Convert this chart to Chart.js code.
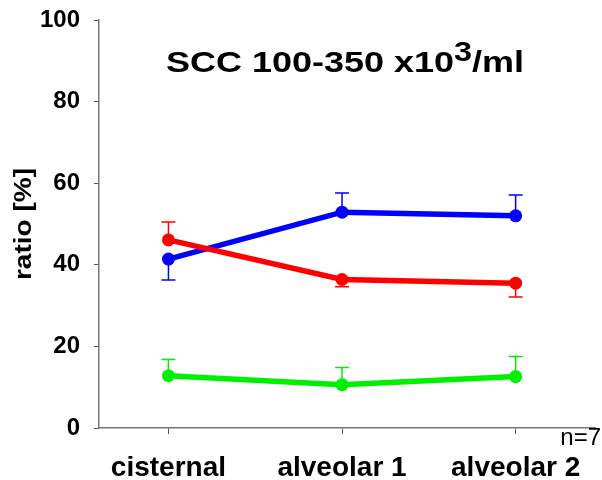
<!DOCTYPE html>
<html>
<head>
<meta charset="utf-8">
<script src="https://cdn.jsdelivr.net/npm/chart.js@4"></script>
<style>
  html, body { margin: 0; padding: 0; background: #fff; }
  #wrap { width: 602px; height: 480px; }
</style>
</head>
<body>
<div id="wrap"><canvas id="chart" width="602" height="480"></canvas></div>
<script>
// data
const categories = ['cisternal', 'alveolar 1', 'alveolar 2'];
const xPositions = [0, 1, 2];
const redValues = [46.1, 36.4, 35.5];
const redErrors = [4.4, -1.8, -3.4];     // signed: + drawn up, - drawn down
const blueValues = [41.4, 52.9, 52.0];
const blueErrors = [-5.1, 4.7, 5.1];
const greenValues = [12.8, 10.6, 12.6];
const greenErrors = [4.0, 4.2, 4.9];
const yTicks = [0, 20, 40, 60, 80, 100];

const titleMain = 'SCC 100-350 x10';
const titleSup = '3';
const titleTail = '/ml';
const yLabel = 'ratio [%]';
const nLabel = 'n=7';

const FONT = '"Liberation Sans", Arial, sans-serif';

function toPoints(values) {
    return values.map((v, i) => ({ x: xPositions[i], y: v }));
}

function makeSet(label, color, values, errors) {
    return {
        label: label,
        data: toPoints(values),
        errors: errors,
        borderColor: color,
        backgroundColor: color,
        borderWidth: 5.5,
        pointRadius: 6.5,
        pointHoverRadius: 6.5,
        pointBorderWidth: 0,
        tension: 0,
        fill: false
    };
}

// one-sided error bars with caps
const errorBars = {
    id: 'errorBars',
    beforeDatasetsDraw(chart) {
        const ctx = chart.ctx;
        const xs = chart.scales.x, ys = chart.scales.y;
        chart.data.datasets.forEach(ds => {
            ctx.save();
            ctx.strokeStyle = ds.borderColor;
            ctx.lineWidth = 1.5;
            ds.data.forEach((p, i) => {
                const px = xs.getPixelForValue(p.x);
                const py = ys.getPixelForValue(p.y);
                const pe = ys.getPixelForValue(p.y + ds.errors[i]);
                ctx.beginPath();
                ctx.moveTo(px, py);
                ctx.lineTo(px, pe);
                ctx.moveTo(px - 7, pe);
                ctx.lineTo(px + 7, pe);
                ctx.stroke();
            });
            ctx.restore();
        });
    }
};

// title with superscript, y label and n=7
const extraText = {
    id: 'extraText',
    afterDraw(chart) {
        const ctx = chart.ctx;
        ctx.save();
        ctx.fillStyle = '#000';
        ctx.textBaseline = 'alphabetic';

        // title, stretched a bit like the original
        const sx = 1.2;
        ctx.font = 'bold 30px ' + FONT;
        const w1 = ctx.measureText(titleMain).width;
        const w3 = ctx.measureText(titleTail).width;
        ctx.font = 'bold 27px ' + FONT;
        const w2 = ctx.measureText(titleSup).width;
        const total = (w1 + w2 + w3) * sx;
        const left = 345 - total / 2;
        ctx.translate(left, 72);
        ctx.scale(sx, 1);
        ctx.font = 'bold 30px ' + FONT;
        ctx.fillText(titleMain, 0, 0);
        ctx.font = 'bold 27px ' + FONT;
        ctx.fillText(titleSup, w1, -11);
        ctx.font = 'bold 30px ' + FONT;
        ctx.fillText(titleTail, w1 + w2, 0);
        ctx.setTransform(1, 0, 0, 1, 0, 0);

        // y axis label
        ctx.save();
        ctx.translate(31, 224);
        ctx.rotate(-Math.PI / 2);
        ctx.scale(1.22, 1);
        ctx.textAlign = 'center';
        ctx.font = 'bold 23px ' + FONT;
        ctx.fillText(yLabel, 0, 0);
        ctx.restore();

        // sample size
        ctx.textAlign = 'right';
        ctx.font = '24px ' + FONT;
        ctx.fillText(nLabel, 601, 445);
        ctx.restore();
    }
};

new Chart(document.getElementById('chart'), {
    type: 'line',
    data: {
        datasets: [
            makeSet('red', '#ff0000', redValues, redErrors),
            makeSet('blue', '#0000ff', blueValues, blueErrors),
            makeSet('green', '#00f000', greenValues, greenErrors)
        ]
    },
    options: {
        responsive: false,
        animation: false,
        layout: { padding: { top: 20, left: 0, right: 0, bottom: 0 } },
        plugins: {
            legend: { display: false },
            tooltip: { enabled: false }
        },
        scales: {
            x: {
                type: 'linear',
                min: -0.4,
                max: 2.46,
                afterBuildTicks: scale => {
                    scale.ticks = xPositions.map(v => ({ value: v }));
                },
                afterFit: scale => {
                    scale.height = 52;
                    scale.paddingLeft = 0;
                    scale.paddingRight = 0;
                },
                border: { display: true, color: '#777', width: 1.5 },
                grid: { drawOnChartArea: false, drawTicks: true, tickLength: 6, color: '#555', lineWidth: 1 },
                ticks: {
                    autoSkip: false,
                    maxRotation: 0,
                    padding: 17,
                    color: '#000',
                    font: { family: FONT, size: 28, weight: 'bold' },
                    callback: v => categories[v]
                }
            },
            y: {
                min: 0,
                max: 100,
                afterBuildTicks: scale => {
                    scale.ticks = yTicks.map(v => ({ value: v }));
                },
                afterFit: scale => {
                    scale.width = 99;
                    scale.paddingTop = 0;
                    scale.paddingBottom = 0;
                },
                border: { display: true, color: '#777', width: 1.5 },
                grid: { drawOnChartArea: false, drawTicks: true, tickLength: 5, color: '#555', lineWidth: 1 },
                ticks: {
                    padding: 14,
                    color: '#000',
                    font: { family: FONT, size: 24, weight: 'bold' }
                }
            }
        }
    },
    plugins: [errorBars, extraText]
});
</script>
</body>
</html>
